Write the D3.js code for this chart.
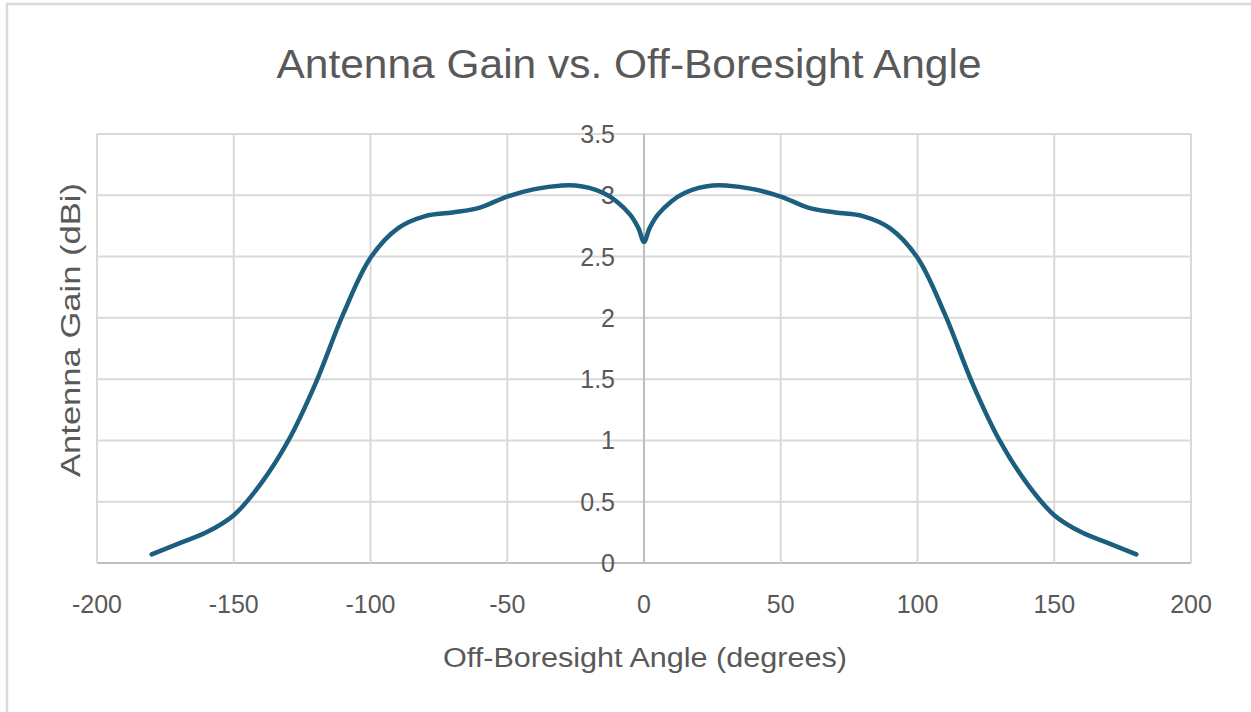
<!DOCTYPE html>
<html>
<head>
<meta charset="utf-8">
<script src="https://cdn.jsdelivr.net/npm/d3@7"></script>
<style>
  body { margin: 0; background: #fff; }
  text { font-family: "Liberation Sans", Arial, sans-serif; fill: #595959; }
</style>
</head>
<body>
<div id="chart-container"></div>
<script>
const width = 1251;
const height = 712;
const marginLeft = 97;
const marginRight = 60;
const marginTop = 134;
const marginBottom = 149;

// values
const angles = [-180, -170, -160, -150, -140, -130, -120, -110, -100, -90, -80, -70, -60, -50, -40, -30, -25, -20, -15, -10, -5, -2, 0,
                2, 5, 10, 15, 20, 25, 30, 40, 50, 60, 70, 80, 90, 100, 110, 120, 130, 140, 150, 160, 170, 180];
const gains = [0.07, 0.16, 0.25, 0.39, 0.65, 1.0, 1.47, 2.03, 2.49, 2.73, 2.83, 2.86, 2.9, 2.99, 3.05, 3.08, 3.08, 3.06, 3.02, 2.95, 2.84, 2.73, 2.62,
               2.73, 2.84, 2.95, 3.02, 3.06, 3.08, 3.08, 3.05, 2.99, 2.9, 2.86, 2.83, 2.73, 2.49, 2.03, 1.47, 1.0, 0.65, 0.39, 0.25, 0.16, 0.07];
const xTicks = [-200, -150, -100, -50, 0, 50, 100, 150, 200];
const yTicks = [0, 0.5, 1, 1.5, 2, 2.5, 3, 3.5];

const data = angles.map((a, i) => ({angle: a, gain: gains[i]}));

const svg = d3.select("#chart-container")
    .append("svg")
    .attr("width", width)
    .attr("height", height)
    .style("display", "block");

// chart frame
svg.append("rect")
    .attr("x", 7).attr("y", 4)
    .attr("width", width + 20).attr("height", height + 20)
    .attr("fill", "none")
    .attr("stroke", "#d9d9d9")
    .attr("stroke-width", 2.5);

const x = d3.scaleLinear()
    .domain([-200, 200])
    .range([marginLeft, width - marginRight]);

const y = d3.scaleLinear()
    .domain([0, 3.5])
    .range([height - marginBottom, marginTop]);

// grid
svg.append("g")
    .selectAll("line")
    .data(yTicks)
    .join("line")
    .attr("x1", x(-200)).attr("x2", x(200))
    .attr("y1", d => y(d)).attr("y2", d => y(d))
    .attr("stroke", d => d === 0 ? "#bfbfbf" : "#d9d9d9")
    .attr("stroke-width", 2);

svg.append("g")
    .selectAll("line")
    .data(xTicks)
    .join("line")
    .attr("x1", d => x(d)).attr("x2", d => x(d))
    .attr("y1", y(0)).attr("y2", y(3.5))
    .attr("stroke", d => d === 0 ? "#bfbfbf" : "#d9d9d9")
    .attr("stroke-width", 2);

// tick labels
svg.append("g")
    .selectAll("text")
    .data(xTicks)
    .join("text")
    .attr("x", d => x(d))
    .attr("y", 613)
    .attr("text-anchor", "middle")
    .attr("font-size", "25px")
    .text(d => d);

svg.append("g")
    .selectAll("text")
    .data(yTicks)
    .join("text")
    .attr("x", x(0) - 29)
    .attr("y", d => y(d))
    .attr("dy", "0.36em")
    .attr("text-anchor", "end")
    .attr("font-size", "25px")
    .text(d => d);

// the curve
const line = d3.line()
    .x(d => x(d.angle))
    .y(d => y(d.gain))
    .curve(d3.curveCatmullRom.alpha(0.5));

svg.append("path")
    .datum(data)
    .attr("fill", "none")
    .attr("stroke", "#1b5e7e")
    .attr("stroke-width", 4.5)
    .attr("stroke-linecap", "round")
    .attr("stroke-linejoin", "round")
    .attr("d", line);

// titles
svg.append("text")
    .attr("x", 629)
    .attr("y", 78)
    .attr("text-anchor", "middle")
    .attr("font-size", "40px")
    .attr("textLength", 705)
    .attr("lengthAdjust", "spacingAndGlyphs")
    .text("Antenna Gain vs. Off-Boresight Angle");

svg.append("text")
    .attr("x", 645)
    .attr("y", 667)
    .attr("text-anchor", "middle")
    .attr("font-size", "27px")
    .attr("textLength", 404)
    .attr("lengthAdjust", "spacingAndGlyphs")
    .text("Off-Boresight Angle (degrees)");

svg.append("text")
    .attr("transform", "translate(80, 330) rotate(-90)")
    .attr("text-anchor", "middle")
    .attr("font-size", "27px")
    .attr("textLength", 294)
    .attr("lengthAdjust", "spacingAndGlyphs")
    .text("Antenna Gain (dBi)");
</script>
</body>
</html>
